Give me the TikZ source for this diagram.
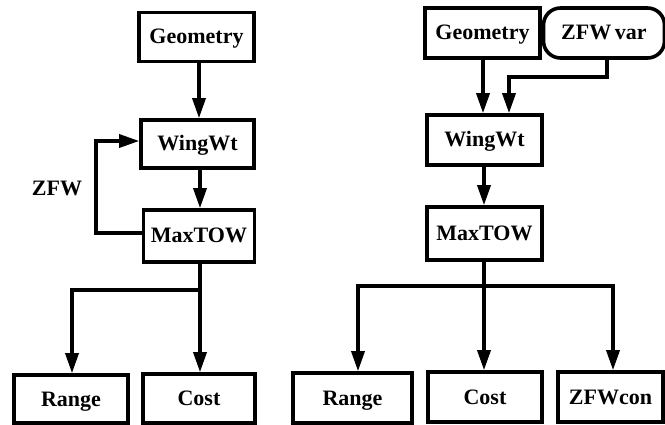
\documentclass[tikz,border=0pt]{standalone}
\usepackage{fontspec}
\setmainfont{Liberation Serif}
\usetikzlibrary{arrows.meta}
\begin{document}
\begin{tikzpicture}[x=1pt,y=-1pt,
  box/.style={draw,line width=3.6pt,rectangle,inner sep=0pt,text height=14pt,text depth=0pt,font=\fontsize{22}{24}\selectfont\bfseries},
  rbox/.style={box,rounded corners=17pt},
  conn/.style={line width=3.4pt},
  arr/.style={conn,-{Triangle[length=20pt,width=13pt]}},
  lbl/.style={font=\fontsize{22}{24}\selectfont\bfseries}]
\useasboundingbox (0,0) rectangle (665,425);
\clip (0,0) rectangle (665,425);
% left diagram
\node[box,minimum width=115pt,minimum height=49pt] (geoL) at (196.5,37) {Geometry};
\node[box,minimum width=113pt,minimum height=48pt] (wingL) at (197.5,144) {WingWt};
\node[box,minimum width=111pt,minimum height=52pt] (maxL) at (199,236) {MaxTOW};
\node[box,minimum width=114pt,minimum height=48pt] (rangeL) at (71,399) {Range};
\node[box,minimum width=112pt,minimum height=49pt] (costL) at (199,398.5) {Cost};
\node[lbl] (zfwL) at (57,188) {ZFW};
\coordinate (splitL) at (200,290);
\draw[arr] (geoL.south -| 199,0) -- (wingL.north -| 199,0);
\draw[arr] (wingL.south -| 200,0) -- (maxL.north -| 200,0);
\draw[arr] (maxL.west |- 0,233) -| (96,141) -- (wingL.west |- 0,141);
\draw[conn] (maxL.south -| 200,0) -- (splitL);
\draw[arr] (splitL) -| (rangeL.north -| 72,0);
\draw[arr] (splitL) -- (costL.north -| 200,0);
% right diagram
\node[box,minimum width=115pt,minimum height=50pt] (geoR) at (482.5,33) {Geometry};
\node[rbox,minimum width=121pt,minimum height=50pt] (zfwvar) at (604,33) {ZFW\,var};
\node[box,minimum width=115pt,minimum height=50pt] (wingR) at (484.5,140) {WingWt};
\node[box,minimum width=115pt,minimum height=53pt] (maxR) at (484.5,233.5) {MaxTOW};
\node[box,minimum width=119pt,minimum height=50pt] (rangeR) at (352.5,398) {Range};
\node[box,minimum width=114pt,minimum height=50pt] (costR) at (485,397) {Cost};
\node[box,minimum width=105pt,minimum height=50pt] (zfwcon) at (610.5,397) {ZFWcon};
\coordinate (splitR) at (484,286);
\draw[arr] (geoR.south -| 483,0) -- (wingR.north -| 483,0);
\draw[arr] (zfwvar.south -| 607,0) -- (607,77) -| (wingR.north -| 509,0);
\draw[arr] (wingR.south -| 484,0) -- (maxR.north -| 484,0);
\draw[conn] (maxR.south -| 484,0) -- (splitR);
\draw[arr] (splitR) -| (rangeR.north -| 358,0);
\draw[arr] (splitR) -| (zfwcon.north -| 613,0);
\draw[arr] (splitR) -- (costR.north -| 484,0);
\end{tikzpicture}
\end{document}
